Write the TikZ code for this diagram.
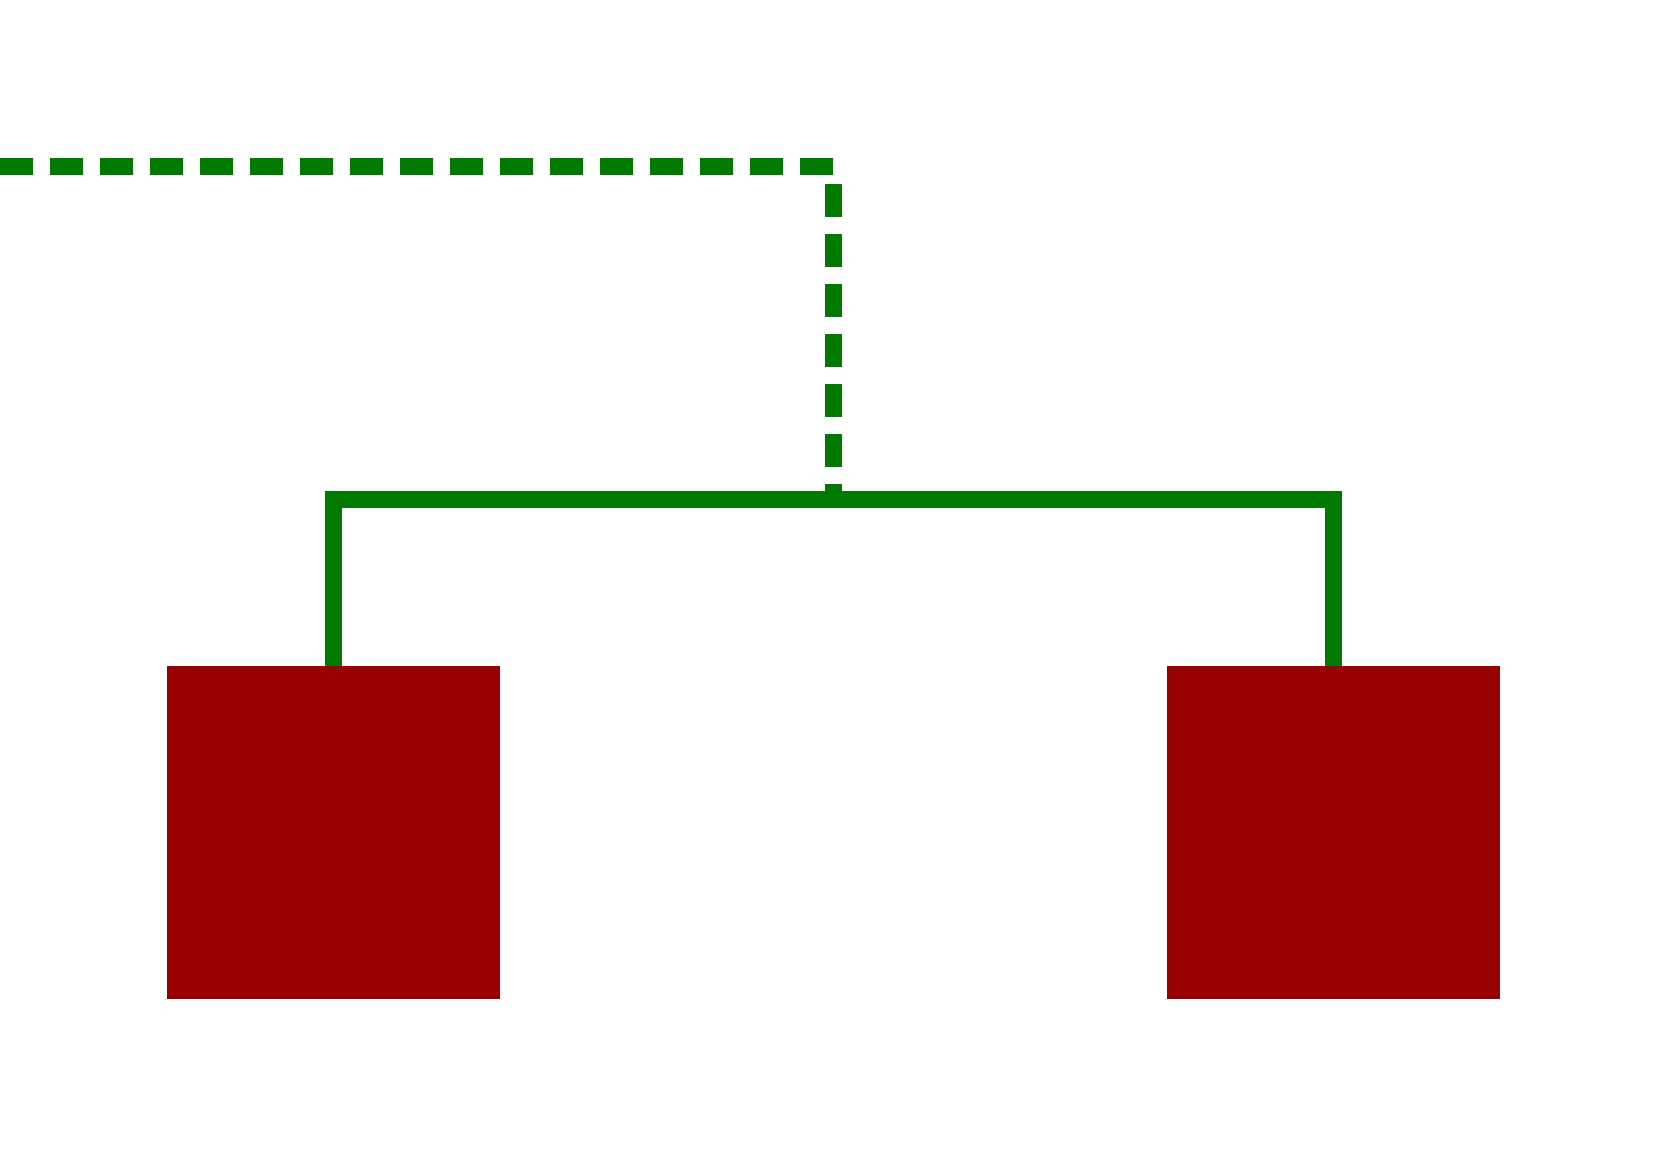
\documentclass[tikz,border=0pt]{standalone}
\usepackage{tikz}

\definecolor{darkgreen}{RGB}{0,122,0}
\definecolor{darkred}{RGB}{153,0,0}

\begin{document}
\begin{tikzpicture}
\useasboundingbox (0,0) rectangle (16.67,11.67);
\tikzset{box/.style={fill=darkred,minimum size=3.33cm,inner sep=0pt,outer sep=0pt},
  link/.style={darkgreen,line width=0.17cm}}

\node[box] (left) at (3.33,3.34) {};
\node[box] (right) at (13.33,3.34) {};

\coordinate (split) at (8.33,6.67);
\coordinate (start) at (0,10.0);

\draw[link] (left.north) |- (split) -| (right.north);
\draw[link,dash pattern=on 0.33cm off 0.17cm] (start) -| (split);
\end{tikzpicture}
\end{document}
